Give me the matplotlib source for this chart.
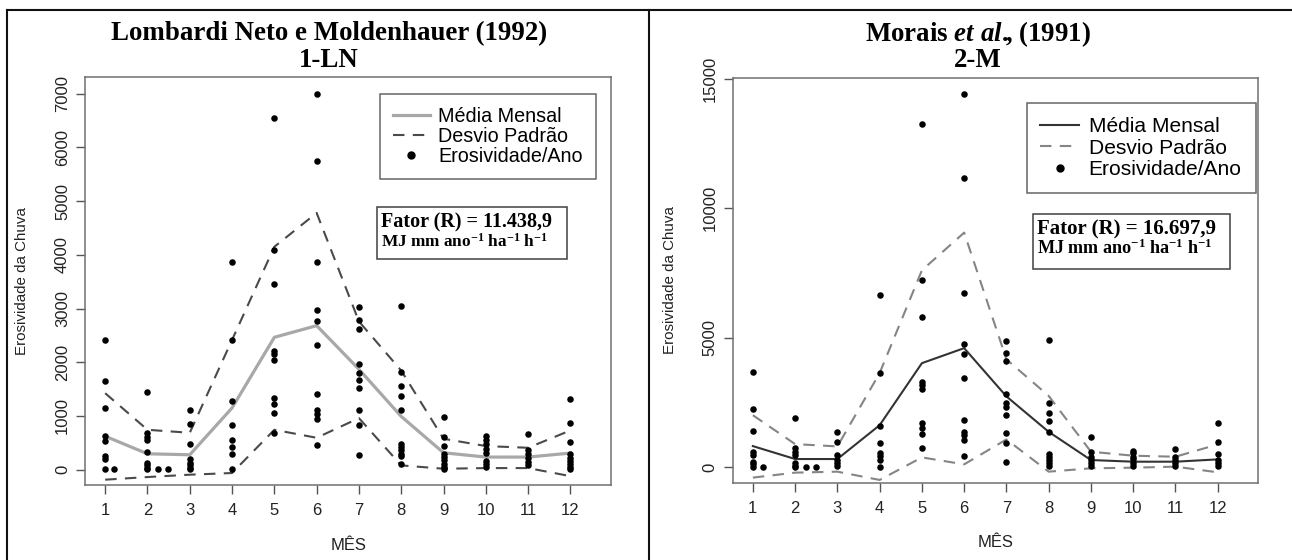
import matplotlib
matplotlib.use("Agg")
import matplotlib.pyplot as plt
from matplotlib.lines import Line2D
from matplotlib.patches import Rectangle

plt.rcParams['font.family'] = 'Liberation Sans'
plt.rcParams['mathtext.fontset'] = 'custom'
plt.rcParams['mathtext.rm'] = 'Liberation Serif:bold'
plt.rcParams['mathtext.bf'] = 'Liberation Serif:bold'
plt.rcParams['mathtext.it'] = 'Liberation Serif:italic:bold'

W, H = 1292, 560
meses = list(range(1, 13))

# --- 1-LN (Lombardi Neto e Moldenhauer, 1992) ---
ln_media = [623, 296, 278, 1150, 2465, 2682, 1870, 991, 315, 235, 235, 309]
ln_sup = [1424, 743, 687, 2416, 4150, 4780, 2760, 1845, 576, 440, 408, 731]
ln_inf = [-186, -137, -93, -62, 743, 594, 960, 80, 18, 30, 30, -120]
ln_pontos = [
    [2416, 1660, 1152, 620, 540, 250, 200, 10],
    [1443, 680, 610, 560, 330, 120, 80, 40, 10],
    [1119, 855, 483, 204, 120, 80, 40, 5],
    [3860, 2416, 1275, 824, 557, 421, 297, 18],
    [6554, 4089, 3457, 2217, 2155, 2050, 1338, 1214, 1047, 681],
    [7003, 5749, 3866, 2980, 2775, 2316, 1405, 1115, 1041, 936, 452],
    [3023, 2788, 2621, 1970, 1797, 1673, 1518, 1103, 824, 266],
    [3054, 1815, 1567, 1369, 1115, 483, 421, 359, 297, 247, 110],
    [978, 607, 433, 297, 235, 173, 111, 49, 5],
    [620, 545, 471, 390, 310, 160, 100, 50],
    [657, 371, 297, 223, 142, 80],
    [1319, 873, 514, 297, 216, 155, 100, 50, 5],
]
ln_extra_x = [1.22, 2.25, 2.48]
ln_extra_y = [10, 10, 10]

# --- 2-M (Morais et al., 1991) ---
m_media = [811, 312, 312, 1618, 4014, 4594, 2730, 1362, 273, 209, 209, 298]
m_sup = [2004, 888, 799, 3630, 7600, 9054, 4160, 2750, 594, 440, 401, 876]
m_inf = [-406, -214, -176, -496, 375, 106, 1068, -176, -47, -22, 17, -201]
m_pontos = [
    [3670, 2260, 1402, 594, 478, 209, 119, 17],
    [1896, 720, 590, 460, 145, 60, 17],
    [1362, 977, 465, 273, 145, 42],
    [6646, 3631, 1592, 914, 560, 420, 273, 17],
    [13246, 7223, 5785, 3285, 3157, 3003, 1708, 1529, 1260, 722],
    [14400, 11169, 6723, 4762, 4377, 3454, 1812, 1362, 1234, 1042, 440],
    [4862, 4400, 4080, 2811, 2490, 2324, 2004, 1325, 915, 209],
    [4927, 2490, 2093, 1772, 1362, 504, 401, 273, 145, 42],
    [1145, 594, 401, 273, 145, 42],
    [632, 530, 400, 300, 170, 42],
    [683, 400, 273, 145, 42],
    [1709, 979, 504, 273, 145, 42],
]
m_extra_x = [1.24, 2.25, 2.49]
m_extra_y = [17, 17, 17]


def fx(x):
    return x / W


def fy(y):
    return 1 - y / H


def painel(box, media, sup, inf, pontos, ex_x, ex_y, ylim, yticks,
           cor_media, lw_media, cor_dp, titulo1, titulo2, tit_x,
           leg_anchor, leg_fs, leg_sp, fator, fbox, fs1, fs2):
    x0, y0, x1, y1 = box
    ax = fig.add_axes([fx(x0), fy(y1), (x1 - x0) / W, (y1 - y0) / H])

    xs = [m for m, vals in zip(meses, pontos) for _ in vals]
    ys = [v for vals in pontos for v in vals]
    ax.scatter(xs + ex_x, ys + ex_y, s=22, color='black', zorder=3, linewidths=0)
    ax.plot(meses, media, color=cor_media, lw=lw_media, zorder=2)
    ax.plot(meses, sup, color=cor_dp, lw=1.5, ls=(0, (5.5, 4)), zorder=2)
    ax.plot(meses, inf, color=cor_dp, lw=1.5, ls=(0, (5.5, 4)), zorder=2)

    ax.set_xlim(0.53, 12.96)
    ax.set_ylim(*ylim)
    ax.set_xticks(meses)
    ax.set_yticks(yticks)
    ax.set_yticklabels([str(t) for t in yticks], rotation=90, va='center')
    ax.tick_params(axis='both', direction='out', length=6.5, width=1,
                   color='#555555', labelsize=12, labelcolor='#222222')
    ax.tick_params(axis='x', pad=6.5)
    ax.tick_params(axis='y', pad=4.5)
    for sp in ax.spines.values():
        sp.set_color('#707070')
        sp.set_linewidth(1.1)

    ax.text(0.5, -0.147, 'MÊS', transform=ax.transAxes, ha='center', va='center',
            fontsize=12, color='#222222')
    fig.text(fx(x0 - 63), fy((y0 + y1) / 2), 'Erosividade da Chuva', rotation=90,
             ha='center', va='center', fontsize=10.9, color='#222222')

    fig.text(fx(tit_x), fy(34), titulo1, ha='center', va='center',
             fontsize=19.4, fontweight='bold', family='Liberation Serif')
    fig.text(fx(tit_x), fy(60.5), titulo2, ha='center', va='center',
             fontsize=19.4, fontweight='bold', family='Liberation Serif')

    hs = [Line2D([], [], color=cor_media, lw=lw_media),
          Line2D([], [], color=cor_dp, lw=1.5, ls=(0, (5.5, 4))),
          Line2D([], [], color='black', marker='o', ls='none', markersize=5)]
    leg = ax.legend(hs, ['Média Mensal', 'Desvio Padrão', 'Erosividade/Ano'],
                    loc='upper left', bbox_to_anchor=leg_anchor, fontsize=leg_fs,
                    frameon=True, fancybox=False, edgecolor='#404040',
                    handlelength=1.85, handletextpad=0.45, labelspacing=leg_sp,
                    borderpad=0.66, borderaxespad=0)
    leg.get_frame().set_linewidth(1.1)

    bx0, by0, bx1, by1 = fbox
    fig.add_artist(Rectangle((fx(bx0), fy(by1)), (bx1 - bx0) / W, (by1 - by0) / H,
                             transform=fig.transFigure, fill=False,
                             edgecolor='#404040', lw=1.1))
    fig.text(fx(bx0 + 4), fy(by0 + 15.5), fator, ha='left', va='center',
             fontsize=fs1, fontweight='bold', family='Liberation Serif')
    fig.text(fx(bx0 + 4), fy(by0 + 34), r'MJ mm ano$^{-1}$ ha$^{-1}$ h$^{-1}$',
             ha='left', va='center', fontsize=fs2, fontweight='bold',
             family='Liberation Serif')
    return ax


fig = plt.figure(figsize=(W / 100, H / 100), dpi=100)

painel((85.3, 76.8, 611, 485), ln_media, ln_sup, ln_inf, ln_pontos,
       ln_extra_x, ln_extra_y, (-285, 7315), list(range(0, 7001, 1000)),
       '#a8a8a8', 2.3, '#4a4a4a',
       'Lombardi Neto e Moldenhauer (1992)', '1-LN', 329,
       (0.5606, 0.959), 14.2, 0.07, 'Fator (R) = 11.438,9',
       (376.7, 207.3, 567.3, 259.3), 14.5, 12.4)

painel((733, 77.5, 1258.3, 482.9), m_media, m_sup, m_inf, m_pontos,
       m_extra_x, m_extra_y, (-610, 15045), [0, 5000, 10000, 15000],
       '#333333', 1.5, '#858585',
       r'Morais $et\ al.\!\!$, (1991)', '2-M', 978,
       (0.559, 0.936), 15.1, 0.11, 'Fator (R) = 16.697,9',
       (1033.3, 214.3, 1230, 269.3), 15, 13.1)

# molduras dos dois quadros
for seg in [((7, 9.5), (1292, 9.5)), ((7, 9.5), (7, 560)), ((649, 9.5), (649, 560))]:
    (xa, ya), (xb, yb) = seg
    fig.add_artist(Line2D([fx(xa), fx(xb)], [fy(ya), fy(yb)], color='#111111',
                          lw=1.5, transform=fig.transFigure))

fig.savefig('out.png', dpi=100)
